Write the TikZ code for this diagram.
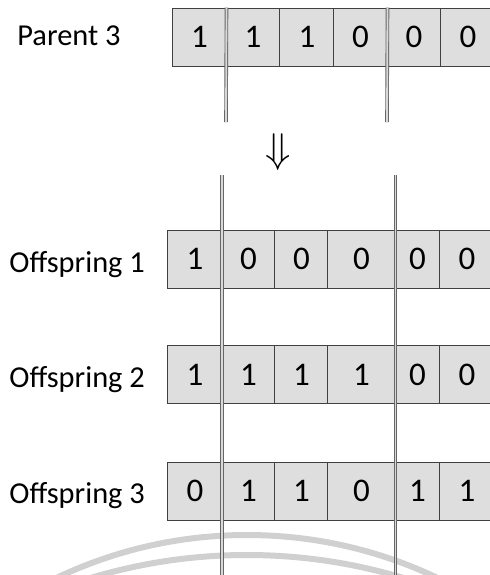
\documentclass[tikz,border=0pt]{standalone}
\usepackage{fontspec}
\setmainfont{Carlito}
\usetikzlibrary{positioning}
\definecolor{cellgray}{RGB}{222,222,222}
\definecolor{markgray}{RGB}{208,208,208}

\begin{document}
\begin{tikzpicture}[x=0.5pt,y=-0.5pt,
					cell/.style={
						draw=black!75, fill=cellgray, line width=0.5pt,
						minimum height=29pt, inner sep=0pt,
						font=\fontsize{16.5}{16.5}\selectfont, anchor=center
					},
					rowlabel/.style={anchor=base west, inner sep=0pt, font=\fontsize{15.2}{15.2}\selectfont},
					cutline/.style={draw=black!60, double=black!15, line width=0.45pt, double distance=0.9pt},
					watermark/.style={draw=markgray, line width=3pt}
					]
					\useasboundingbox (0,0) rectangle (490,575);
					
					% watermark arcs at the bottom
					\draw[watermark] (247,978) circle[radius=443];
					\draw[watermark] (247,1095) circle[radius=540];
					
					% parent
					\node[rowlabel] (lblpar) at (17,45) {Parent 3};
					\foreach \xl/\xr/\v [count=\i] in {173/226/1,226/280/1,280/334/1,334/387/0,387/441/0,441/495/0}
					\node[cell, minimum width={(\xr-\xl)*0.5pt}] (par\i) at ({(\xl+\xr)/2},37) {\v};
					
					% cut points above the arrow
					\coordinate (cutPa) at (226,122);
					\coordinate (cutPb) at (387,122);
					\draw[cutline] (par1.north east) -- (cutPa);
					\draw[cutline] (par4.north east) -- (cutPb);
					
					\node[font=\fontsize{21}{21}\selectfont] (down) at (278,152) {$\Downarrow$};
					
					% offspring 1, 2, 3
					\node[rowlabel] (lbloffa) at (9,272) {Offspring 1};
					\foreach \xl/\xr/\v [count=\i] in {168/222/1,222/275/0,275/328/0,328/395/0,395/440/0,440/494/0}
					\node[cell, minimum width={(\xr-\xl)*0.5pt}] (offa\i) at ({(\xl+\xr)/2},259) {\v};
					
					\node[rowlabel] (lbloffb) at (9,387) {Offspring 2};
					\foreach \xl/\xr/\v [count=\i] in {168/222/1,222/275/1,275/328/1,328/395/1,395/440/0,440/494/0}
					\node[cell, minimum width={(\xr-\xl)*0.5pt}] (offb\i) at ({(\xl+\xr)/2},374.5) {\v};
					
					\node[rowlabel] (lbloffc) at (9,503) {Offspring 3};
					\foreach \xl/\xr/\v [count=\i] in {168/222/0,222/275/1,275/328/1,328/395/0,395/440/1,440/494/1}
					\node[cell, minimum width={(\xr-\xl)*0.5pt}] (offc\i) at ({(\xl+\xr)/2},491) {\v};
					
					% cut lines below the arrow
					\coordinate (cutAtop) at (222,175);
					\coordinate (cutAend) at (222,580);
					\coordinate (cutBtop) at (395.5,175);
					\coordinate (cutBend) at (395.5,580);
					\draw[cutline] (cutAtop) -- (cutAend);
					\draw[cutline] (cutBtop) -- (cutBend);
				\end{tikzpicture}
\end{document}
